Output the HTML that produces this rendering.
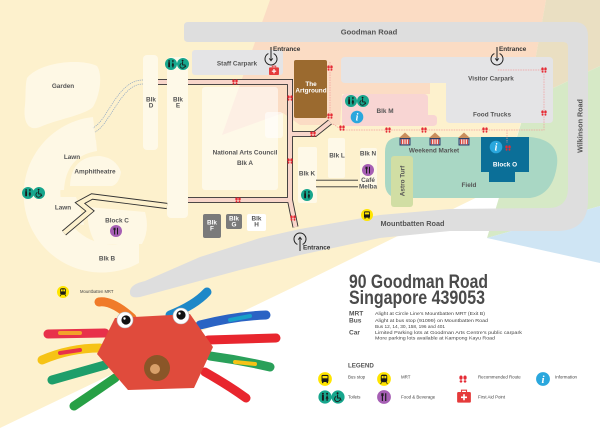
<!DOCTYPE html>
<html><head><meta charset="utf-8"><style>
html,body{margin:0;padding:0;background:#fff;width:600px;height:433px;overflow:hidden;}
svg{display:block;}
text{font-family:"Liberation Sans",Arial,sans-serif;}
.l{font-size:6.4px;font-weight:bold;fill:#555;text-anchor:middle;}
.d{font-size:4.4px;fill:#444;}
.g{font-size:4.4px;fill:#444;}
</style></head><body>
<svg width="600" height="433" viewBox="0 0 600 433" xmlns="http://www.w3.org/2000/svg">
<defs>
 <g id="fp">
  <ellipse cx="-1.5" cy="-1" rx="1.2" ry="1.6" fill="#e52b35"/><ellipse cx="-1.5" cy="1.8" rx="1" ry="0.9" fill="#e52b35"/>
  <ellipse cx="1.5" cy="-1" rx="1.2" ry="1.6" fill="#e52b35"/><ellipse cx="1.5" cy="1.8" rx="1" ry="0.9" fill="#e52b35"/>
 </g>
 <g id="wc"><circle r="6" fill="#17a68d"/>
  <circle cx="-1.9" cy="-3" r="0.9" fill="#1a1a1a"/><rect x="-2.8" y="-1.9" width="1.8" height="5.2" rx="0.4" fill="#1a1a1a"/>
  <circle cx="1.9" cy="-3" r="0.9" fill="#1a1a1a"/><path d="M1.9,-2 L3.2,1.5 L0.6,1.5 Z" fill="#1a1a1a"/><rect x="1.3" y="1.4" width="1.2" height="2" fill="#1a1a1a"/>
 </g>
 <g id="wh"><circle r="6" fill="#17a68d"/>
  <circle cx="-0.4" cy="-3.4" r="0.9" fill="#1a1a1a"/>
  <path d="M-0.4,-2.2 L-0.4,0.9 L1.9,0.9 L2.9,3.2" stroke="#1a1a1a" stroke-width="0.9" fill="none"/>
  <path d="M-1.6,-0.6 A2.5,2.5 0 1 0 1.8,2.4" stroke="#1a1a1a" stroke-width="0.8" fill="none"/>
 </g>
 <g id="info"><circle r="6.3" fill="#2aa7dd"/><text y="3.6" font-size="10" font-style="italic" font-weight="bold" text-anchor="middle" fill="#fff" style="font-family:'Liberation Serif',serif">i</text></g>
 <g id="fnb"><circle r="6" fill="#a65fb4"/>
  <path d="M-1.4,-3.3 L-1.4,3.5 M1.5,-3.3 L1.5,3.5" stroke="#1a1a1a" stroke-width="1"/>
  <path d="M-2.2,-3.3 L-2.2,-1 M-0.6,-3.3 L-0.6,-1 M-2.2,-1 L-0.6,-1" stroke="#1a1a1a" stroke-width="0.5" fill="none"/>
 </g>
 <g id="bus"><circle r="6" fill="#ffe500"/>
  <rect x="-3" y="-3.6" width="6" height="6.2" rx="1" fill="#1a1a1a"/><rect x="-2.2" y="-2.6" width="4.4" height="2" fill="#ffe500"/>
  <rect x="-2.6" y="2.4" width="1.2" height="1.2" fill="#1a1a1a"/><rect x="1.4" y="2.4" width="1.2" height="1.2" fill="#1a1a1a"/>
 </g>
 <g id="mrt"><circle r="6" fill="#ffe500"/>
  <rect x="-2.8" y="-3.8" width="5.6" height="6.6" rx="1.6" fill="#1a1a1a"/><rect x="-2" y="-2.6" width="1.7" height="2" fill="#ffe500"/><rect x="0.3" y="-2.6" width="1.7" height="2" fill="#ffe500"/>
  <path d="M-2,2.8 L-3,4.2 M2,2.8 L3,4.2" stroke="#1a1a1a" stroke-width="0.7"/>
 </g>
 <g id="fa"><rect x="-5.5" y="-4" width="11" height="8.5" rx="1" fill="#e53a3a"/><path d="M-2,-4 V-5.5 H2 V-4" stroke="#e53a3a" stroke-width="0.9" fill="none"/><path d="M0,-2.2 V2.6 M-2.4,0.2 H2.4" stroke="#fff" stroke-width="1.3"/></g>
 <g id="ent"><path d="M-2.6,-5.4 A6,6 0 1 0 2.6,-5.4" stroke="#222" stroke-width="1" fill="none"/><path d="M0,-12 V1.5" stroke="#222" stroke-width="1"/><path d="M-1.8,-0.6 L0,1.8 L1.8,-0.6" stroke="#222" stroke-width="0.9" fill="none"/></g>
 <g id="hut"><path d="M-6,-1 L0,-6.5 L6,-1 Z" fill="#c98d5c"/><rect x="-5.5" y="-1" width="11" height="7.5" fill="#2c3e6b"/><rect x="-4.3" y="0.3" width="8.6" height="5" fill="#fff"/><path d="M-3.5,0.3 V5.3 M-1.7,0.3 V5.3 M0,0.3 V5.3 M1.7,0.3 V5.3 M3.5,0.3 V5.3" stroke="#d9473d" stroke-width="1"/></g>
</defs>

<rect width="600" height="433" fill="#fff"/>
<!-- background regions -->
<polygon points="0,0 546,0 528,100 502,185 300,284 0,428" fill="#fdf1cd"/>
<polygon points="270,0 546,0 528,100 446,100 446,83 430,83 430,94 342,94 340,125 300,125 283,113 222,135" fill="#fbdcc4"/>
<polygon points="546,0 600,0 600,66 528,100" fill="#eadfc2"/>
<polygon points="528,100 600,66 600,206 487,238" fill="#d6e9c6"/>
<polygon points="487,238 600,206 600,263" fill="#cfe5f4"/>

<!-- lighter left shapes -->
<g fill="#fef8e5">
 <path d="M27,78 C40,62 80,58 97,66 C103,75 100,95 93,107 C85,115 55,120 40,127 C27,132 23,120 25,105 C26,95 25,85 27,78 Z"/>
 <path d="M93,117 A78,78 0 1 0 139,263 L139,237 A52,52 0 1 1 96,143 Z"/>
 <path d="M51,190 Q52,146 96,140 L97,151 Q66,156 64,190 Z"/>
 <path d="M70,186 Q71,156 100,156 Q116,158 121,172 Q119,184 112,186 Z"/>
 <path d="M51,197 L76,197 Q82,212 84,225 Q62,222 54,212 Z"/>
 <path d="M88,207 L145,212 Q150,230 142,244 L96,244 Q86,228 88,207 Z"/>
</g>
<g fill="rgba(255,255,255,0.55)">
 <rect x="143" y="55" width="15" height="95" rx="4"/>
 <rect x="167" y="57" width="21" height="161" rx="4"/>
 <rect x="202" y="87" width="76" height="103" rx="3"/>
 <rect x="265" y="112" width="18" height="26" rx="3"/>
 <rect x="298" y="147" width="19" height="56" rx="2"/>
 <rect x="328" y="138" width="17" height="40" rx="2"/>
 <rect x="360" y="148" width="17" height="40" rx="2"/>
</g>

<!-- roads -->
<path d="M188,22 L574,22 Q588,22 588,36 L588,200 Q588,231 557,231 L450,231 L380,238 L300,255 L240,270 L140,297 Q129,299 130,291 Q131,284 145,281 L200,257 L260,238 L300,229 L380,215 L450,209 L548,208 Q568,208 568,188 L568,47 Q568,42 563,42 L188,42 Q184,42 184,38 L184,26 Q184,22 188,22 Z" fill="#dedede"/>

<!-- carparks & blocks -->
<rect x="192" y="50" width="91" height="25" rx="3" fill="#e4e4e6"/>
<path d="M345,57 L549,57 Q553,57 553,61 L553,119 Q553,123 549,123 L450,123 Q446,123 446,119 L446,83 L345,83 Q341,83 341,79 L341,61 Q341,57 345,57 Z" fill="#e4e4e6"/>
<path d="M346,94 L424,94 Q428,94 428,98 L428,115 L433,115 Q437,115 437,119 L437,122 Q437,126 433,126 L346,126 Q342,126 342,122 L342,98 Q342,94 346,94 Z" fill="#f8d5d3"/>
<rect x="294" y="60" width="33" height="58" rx="2" fill="#9b6a2f"/>
<path d="M400,137 L530,137 Q560,140 557,165 Q553,195 530,198 L400,198 Q385,198 385,183 L385,152 Q385,137 400,137 Z" fill="#a9d7c4"/>
<rect x="391" y="156" width="22" height="51" rx="3" fill="#d1dea4"/>
<path d="M481,137 L529,137 L529,172 L515,172 L515,182 L489,182 L489,172 L481,172 Z" fill="#0b6f98"/>
<rect x="203" y="214" width="18" height="24" rx="2" fill="#7a7a7a"/>
<rect x="226" y="214" width="16" height="15" rx="2" fill="#7a7a7a"/>
<rect x="247" y="214" width="19" height="17" rx="2" fill="#fff"/>

<!-- paths: double lines -->
<g fill="none" stroke-linejoin="miter">
 <path d="M188,82 L290,82 L290,200 L188,200 M290,200 L295.5,227 M158,82 L167,82 M290,134 L315,134 L330,122" stroke="#333" stroke-width="6"/>
 <path d="M188,82 L290,82 L290,200 L188,200 M290,200 L295.5,227 M158,82 L167,82 M290,134 L315,134 L330,122" stroke="#f8d6ca" stroke-width="4.2"/>
 <path d="M167,206 L92,196.5 L80,203 L90,211 L64,233" stroke="#333" stroke-width="6.2"/>
 <path d="M167,206 L92,196.5 L80,203 L90,211 L64,233" stroke="#fdf1cd" stroke-width="4.4"/>
 <path d="M316,183.5 L358,183.5" stroke="#333" stroke-width="7.5"/>
 <path d="M316,183.5 L358,183.5" stroke="#fdf1cd" stroke-width="5.7"/>
 <path d="M143,80 C125,80 115,100 105,115 C100,123 96,126 93,128 M143,84 C127,84 118,104 108,118 C103,126 99,130 95,132" stroke="#8aa4c4" stroke-width="0.7" stroke-dasharray="1.2 0.9"/>
 <path d="M330,62 L330,120 M333,124 L342,130 L544,130 L544,70 L497,70 M507,130 L507,143" stroke="#f29a9a" stroke-width="0.7" stroke-dasharray="1.5 1"/>
</g>

<!-- footprints -->
<use href="#fp" x="235" y="82"/><use href="#fp" x="290" y="98"/><use href="#fp" x="290" y="161"/>
<use href="#fp" x="238" y="200"/><use href="#fp" x="293" y="218"/><use href="#fp" x="313" y="134"/>
<use href="#fp" x="330" y="68"/><use href="#fp" x="330" y="116"/><use href="#fp" x="342" y="128"/>
<use href="#fp" x="388" y="130"/><use href="#fp" x="424" y="130"/><use href="#fp" x="485" y="130"/>
<use href="#fp" x="544" y="70"/><use href="#fp" x="544" y="113"/><use href="#fp" x="508" y="148"/>

<!-- huts -->
<use href="#hut" x="405" y="139"/><use href="#hut" x="435" y="139"/><use href="#hut" x="464" y="139"/>

<!-- icons on map -->
<use href="#wc" x="171" y="64"/><use href="#wh" x="183" y="64"/>
<use href="#wc" x="28" y="193"/><use href="#wh" x="39" y="193"/>
<use href="#wc" x="351" y="101"/><use href="#wh" x="363" y="101"/>
<use href="#info" x="357" y="117"/>
<use href="#wc" x="307" y="195"/>
<use href="#info" x="496" y="147"/>
<use href="#fnb" x="116" y="231"/><use href="#fnb" x="368" y="170"/>
<use href="#bus" x="367" y="215"/>
<use href="#mrt" x="63" y="292"/>
<g transform="translate(274,71) scale(0.9)"><use href="#fa"/></g>
<use href="#ent" x="271" y="59"/>
<use href="#ent" x="497" y="59"/>
<g transform="translate(300,239) rotate(180)"><use href="#ent"/></g>

<!-- map labels -->
<text x="369" y="34.5" class="l" style="font-size:7.6px">Goodman Road</text>
<text transform="translate(582.5,126) rotate(-90)" class="l" style="font-size:7.2px">Wilkinson Road</text>
<text x="412.5" y="225.8" class="l" style="font-size:7.3px">Mountbatten Road</text>
<text x="237" y="65.3" class="l">Staff Carpark</text>
<text x="273" y="51" class="l" style="text-anchor:start;fill:#333">Entrance</text>
<text x="499" y="51" class="l" style="text-anchor:start;fill:#333">Entrance</text>
<text x="303" y="249.5" class="l" style="text-anchor:start;fill:#333">Entrance</text>
<text x="63" y="88" class="l">Garden</text>
<text x="151" y="101.5" class="l">Blk</text><text x="151" y="107.5" class="l">D</text>
<text x="178" y="101.5" class="l">Blk</text><text x="178" y="107.5" class="l">E</text>
<text x="245" y="154.5" class="l">National Arts Council</text>
<text x="245" y="165" class="l">Blk A</text>
<text x="311" y="86" class="l" style="fill:#fff">The</text>
<text x="311" y="92.5" class="l" style="fill:#fff">Artground</text>
<text x="491" y="80.3" class="l">Visitor Carpark</text>
<text x="492" y="116.3" class="l">Food Trucks</text>
<text x="385" y="113" class="l">Blk M</text>
<text x="434" y="152.3" class="l">Weekend Market</text>
<text x="505" y="166.3" class="l" style="fill:#fff">Block O</text>
<text x="469" y="187" class="l">Field</text>
<text transform="translate(404.3,181) rotate(-90)" class="l">Astro Turf</text>
<text x="337" y="157.3" class="l">Blk L</text>
<text x="368" y="155.3" class="l">Blk N</text>
<text x="368" y="182" class="l">Café</text>
<text x="368" y="188.3" class="l">Melba</text>
<text x="307" y="175.3" class="l">Blk K</text>
<text x="72" y="159" class="l">Lawn</text>
<text x="95" y="173.3" class="l">Amphitheatre</text>
<text x="63" y="209.3" class="l">Lawn</text>
<text x="117" y="222.3" class="l">Block C</text>
<text x="107" y="260.3" class="l">Blk B</text>
<text x="212" y="224.5" class="l" style="fill:#fff">Blk</text><text x="212" y="230.5" class="l" style="fill:#fff">F</text>
<text x="234" y="220.5" class="l" style="fill:#fff">Blk</text><text x="234" y="226.5" class="l" style="fill:#fff">G</text>
<text x="256.5" y="220.5" class="l">Blk</text><text x="256.5" y="226.5" class="l">H</text>
<text x="80" y="293" style="font-size:4.2px;fill:#444">Mountbatten MRT</text>

<!-- crab -->
<g fill="none" stroke-linecap="round" stroke-width="9">
 <path d="M132,318 Q112,300 99,302" stroke="#f07b2a"/>
 <path d="M170,315 Q195,305 207,292" stroke="#1e88c8"/>
 <path d="M105,333 L48,334" stroke="#e8304a"/>
 <path d="M100,348 Q70,348 42,360" stroke="#f6c316"/>
 <path d="M105,365 L52,380" stroke="#1e9e6a"/>
 <path d="M115,378 Q95,392 74,406" stroke="#27a046"/>
 <path d="M200,325 Q235,316 266,315" stroke="#2a63c4"/>
 <path d="M208,340 L276,338" stroke="#e8262e"/>
 <path d="M210,356 Q240,360 270,367" stroke="#2aa05a"/>
 <path d="M205,372 Q228,385 246,398" stroke="#e8262e"/>
</g>
<g stroke-linecap="round" fill="none" stroke-width="4">
 <path d="M60,333 L80,333" stroke="#f3a02b"/>
 <path d="M60,353 L80,350" stroke="#e8304a"/>
 <path d="M230,320 L250,316" stroke="#18a0c8"/>
 <path d="M235,362 L255,364" stroke="#f6c316"/>
</g>
<polygon points="97,354 115,318 190,314 213,347 194,388 128,390" fill="#e04b3c"/>
<circle cx="125" cy="320" r="8" fill="#fff" stroke="#bbb" stroke-width="0.6"/>
<circle cx="126" cy="320" r="4.6" fill="#111"/>
<circle cx="124.5" cy="318.5" r="1.2" fill="#fff"/>
<circle cx="181" cy="316" r="8" fill="#fff" stroke="#bbb" stroke-width="0.6"/>
<circle cx="181" cy="315" r="4.6" fill="#111"/>
<circle cx="179.5" cy="313.5" r="1.2" fill="#fff"/>
<circle cx="157" cy="368" r="13" fill="#8a5628"/>
<circle cx="155" cy="369" r="5" fill="#d9a06a"/>

<!-- info panel -->
<text x="349" y="288" textLength="139" lengthAdjust="spacingAndGlyphs" style="font-size:19px;font-weight:bold;fill:#4a4a4a">90 Goodman Road</text>
<text x="349" y="304" textLength="136" lengthAdjust="spacingAndGlyphs" style="font-size:19px;font-weight:bold;fill:#4a4a4a">Singapore 439053</text>
<g style="font-size:6.6px;font-weight:bold;fill:#555">
 <text x="349" y="315.5">MRT</text>
 <text x="349" y="322.7">Bus</text>
 <text x="349" y="334.3">Car</text>
</g>
<text x="375" y="315" class="d" textLength="110" lengthAdjust="spacingAndGlyphs">Alight at Circle Line’s Mountbatten MRT (Exit B)</text>
<text x="375" y="322.2" class="d" textLength="113" lengthAdjust="spacingAndGlyphs">Alight at bus stop (91099) on Mountbatten Road</text>
<text x="375" y="328" class="d" textLength="70" lengthAdjust="spacingAndGlyphs">Bus 12, 14, 30, 158, 196 and 401</text>
<text x="375" y="334" class="d" textLength="147" lengthAdjust="spacingAndGlyphs">Limited Parking lots at Goodman Arts Centre’s public carpark</text>
<text x="375" y="339.6" class="d" textLength="120" lengthAdjust="spacingAndGlyphs">More parking lots available at Kampong Kayu Road</text>

<text x="348" y="367.3" style="font-size:6.2px;font-weight:bold;fill:#555">LEGEND</text>
<g transform="translate(325,379) scale(1.15)"><use href="#bus"/></g>
<g transform="translate(384,379) scale(1.15)"><use href="#mrt"/></g>
<g transform="translate(463,379) scale(1.35)"><use href="#fp"/></g>
<g transform="translate(543,379) scale(1.1)"><use href="#info"/></g>
<g transform="translate(325,397) scale(1.1)"><use href="#wc"/></g>
<g transform="translate(338,397) scale(1.1)"><use href="#wh"/></g>
<g transform="translate(384,397) scale(1.15)"><use href="#fnb"/></g>
<g transform="translate(464,397) scale(1.25)"><use href="#fa"/></g>
<text x="348" y="378.3" class="g">Bus stop</text>
<text x="401" y="378.3" class="g">MRT</text>
<text x="478" y="378.3" class="g">Recommended Route</text>
<text x="555" y="378.3" class="g">Information</text>
<text x="348" y="398.3" class="g">Toilets</text>
<text x="401" y="398.5" class="g">Food &amp; Beverage</text>
<text x="478" y="398.5" class="g">First Aid Point</text>
</svg>
</body></html>
